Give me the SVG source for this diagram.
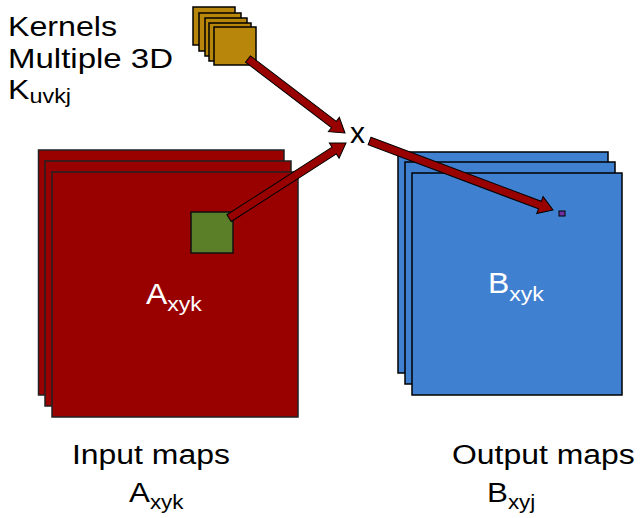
<svg xmlns="http://www.w3.org/2000/svg" width="642" height="518" viewBox="0 0 642 518">
<style>
text{font-family:"Liberation Sans",Arial,sans-serif;fill:#000}
.red{fill:#990000;stroke:#222;stroke-width:1.5}
.blue{fill:#4080D0;stroke:#000;stroke-width:1.5}
.gold{fill:#B8860B;stroke:#000;stroke-width:1.5}
.arrow{fill:#990000;stroke:#000;stroke-width:1}
.w{fill:#fff}
.tl{font-size:27.5px}
</style>
<rect width="642" height="518" fill="#fff"/>

<g id="kernels">
<rect class="gold" x="193" y="7" width="42" height="38"/>
<rect class="gold" x="199" y="13" width="42" height="38"/>
<rect class="gold" x="205" y="18" width="42" height="38"/>
<rect class="gold" x="209" y="23" width="42" height="38"/>
<rect class="gold" x="214" y="27" width="42" height="38"/>
</g>

<g id="kernel-label">
<text class="tl" transform="translate(8,36) scale(1.17,1)">Kernels</text>
<text class="tl" transform="translate(8,67.5) scale(1.2,1)">Multiple 3D</text>
<text class="tl" transform="translate(8,99) scale(1.17,1)">K<tspan font-size="20" dy="4">uvkj</tspan></text>
</g>

<g id="input-maps">
<rect class="red" x="38.5" y="150" width="245.5" height="245"/>
<rect class="red" x="45" y="161" width="246" height="245"/>
<rect class="red" x="52" y="172" width="246" height="245"/>
<text class="w" font-size="29" transform="translate(146,304) scale(1.1,1)">A<tspan font-size="21" dy="7">xyk</tspan></text>
</g>

<g id="kernel-patch">
<rect x="191" y="212" width="42" height="41" fill="#5B7F28" stroke="#111" stroke-width="1.5"/>
</g>

<g id="output-maps">
<rect class="blue" x="398" y="152" width="210" height="221"/>
<rect class="blue" x="405" y="162" width="210" height="222"/>
<rect class="blue" x="412" y="173" width="210" height="222"/>
<text class="w" font-size="29" transform="translate(488,293) scale(1.1,1)">B<tspan font-size="21" dy="8">xyk</tspan></text>
</g>

<g id="output-pixel">
<rect x="559" y="211" width="6" height="5" fill="#7030A0" stroke="#000" stroke-width="1"/>
</g>

<g id="multiply">
<text x="350" y="143" font-size="30">x</text>
</g>

<g id="connectors">
<g transform="translate(345,133) rotate(37.3)"><path class="arrow" d="M-122,-4 L-14,-4 L-14,-9 L0,0 L-14,9 L-14,4 L-122,4 Z"/></g>
<g transform="translate(346,143) rotate(-32.7)"><path class="arrow" d="M-139,-4 L-14,-4 L-14,-9 L0,0 L-14,9 L-14,4 L-139,4 Z"/></g>
<g transform="translate(553,210) rotate(20.6)"><path class="arrow" d="M-196,-4 L-14,-4 L-14,-9 L0,0 L-14,9 L-14,4 L-196,4 Z"/></g>
</g>

<g id="labels">
<text font-size="28" transform="translate(72,463.5) scale(1.14,1)">Input maps</text>
<text font-size="28" transform="translate(129,502) scale(1.12,1)">A<tspan font-size="20" dy="7">xyk</tspan></text>
<text font-size="28" transform="translate(452,463.5) scale(1.14,1)">Output maps</text>
<text font-size="28" transform="translate(487,502) scale(1.12,1)">B<tspan font-size="20" dy="7">xyj</tspan></text>
</g>
</svg>
